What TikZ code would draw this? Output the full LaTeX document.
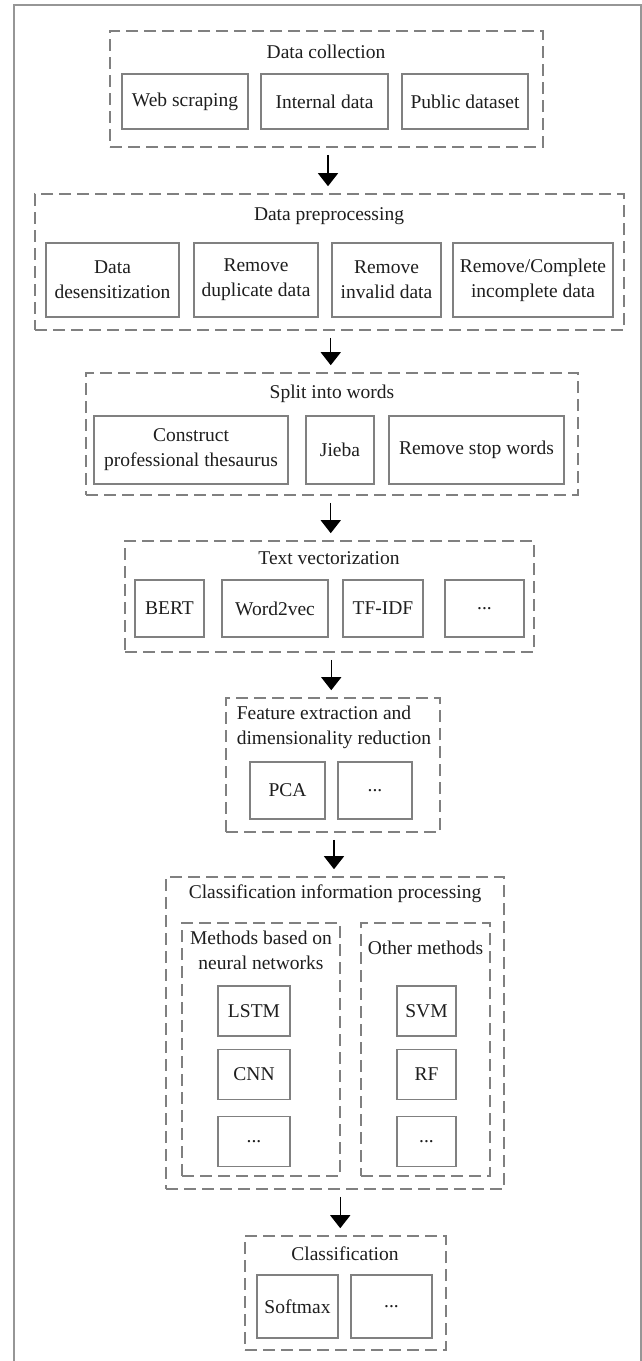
\documentclass[tikz,border=0pt]{standalone}
\usepackage{fontspec}
\setmainfont{Liberation Serif}
\newfontfamily\figfont{Liberation Serif}
\usetikzlibrary{arrows.meta,calc}
\definecolor{boxgray}{RGB}{128,128,128}
\definecolor{framegray}{RGB}{150,150,150}
\definecolor{inkgray}{RGB}{30,30,30}

\begin{document}
\begin{tikzpicture}[x=1pt,y=-1pt,
  every node/.style={text=inkgray, font=\figfont\fontsize{19.5}{25}\selectfont},
  grp/.style 2 args={draw=boxgray, line width=1.6pt, dash pattern=on 12pt off 6pt,
    minimum width=#1pt, minimum height=#2pt, inner sep=0pt},
  item/.style 2 args={draw=boxgray, line width=1.6pt, align=center,
    minimum width=#1pt, minimum height=#2pt, inner sep=0pt},
  ttl/.style={inner sep=0pt, align=center},
  arr/.style={-{Triangle[width=20pt,length=13pt]}, line width=1.3pt, black,
    shorten <=7pt, shorten >=7pt}]

\useasboundingbox (0,0) rectangle (642,1361);
\fill[white] (0,0) rectangle (642,1361);
\draw[framegray, line width=1.5pt] (14,5) rectangle (641,1400);

% data collection
\node[grp={433}{116}] (dc) at (326.5,89) {};
\node[ttl] (dcT) at (326,52) {Data collection};
\node[item={126}{55}] (web) at (185,101.5) {Web scraping};
\node[item={127}{55}] (internal) at (324.5,101.5) {Internal data};
\node[item={126}{55}] (public) at (465,101.5) {Public dataset};

% data preprocessing
\node[grp={589}{136}] (dp) at (329.5,262) {};
\node[ttl] (dpT) at (329,216) {Data preprocessing};
\node[item={133}{74}] (desens) at (112.5,280) {Data\\desensitization};
\node[item={124}{74}] (dup) at (256,280) {Remove\\duplicate data};
\node[item={109}{74}] (invalid) at (386.5,280) {Remove\\invalid data};
\node[item={160}{74}] (incompl) at (533,280) {Remove/Complete\\incomplete data};

% split into words
\node[grp={492}{122}] (sp) at (332,434) {};
\node[ttl] (spT) at (332,394) {Split into words};
\node[item={194}{68}] (thes) at (191,450) {Construct\\professional thesaurus};
\node[item={68}{68}] (jieba) at (340,450) {Jieba};
\node[item={175}{68}] (stop) at (476.5,450) {Remove stop words};

% text vectorization
\node[grp={409}{111}] (tv) at (329.5,596.5) {};
\node[ttl] (tvT) at (329,558) {Text vectorization};
\node[item={69}{57}] (bert) at (169.5,608.5) {BERT};
\node[item={106}{57}] (w2v) at (275,608.5) {Word2vec};
\node[item={80}{57}] (tfidf) at (383,608.5) {TF-IDF};
\node[item={79}{57}] (tvdots) at (484.5,608.5) {...};

% feature extraction
\node[grp={214}{134}] (fe) at (333,765) {};
\node[ttl, align=left] (feT) at (334,727) {Feature extraction and\\dimensionality reduction};
\node[item={75}{57}] (pca) at (287.5,790.5) {PCA};
\node[item={74}{57}] (fedots) at (375,790.5) {...};

% classification information processing
\node[grp={338}{312}] (cip) at (335,1033) {};
\node[ttl] (cipT) at (335,894) {Classification information processing};
\node[grp={158}{253}] (nn) at (261,1049.5) {};
\node[ttl] (nnT) at (261,950) {Methods based on\\neural networks};
\node[grp={129}{253}] (om) at (425.5,1049.5) {};
\node[ttl] (omT) at (425.5,948) {Other methods};
\node[item={72}{50}] (lstm) at (254,1011) {LSTM};
\node[item={72}{50}] (cnn) at (254,1074.5) {CNN};
\node[item={72}{50}] (nndots) at (254,1141.5) {...};
\node[item={59}{50}] (svm) at (426.5,1011) {SVM};
\node[item={59}{50}] (rf) at (426.5,1074.5) {RF};
\node[item={59}{50}] (omdots) at (426.5,1141.5) {...};

% classification
\node[grp={201}{114}] (cls) at (345.5,1293) {};
\node[ttl] (clsT) at (345,1254) {Classification};
\node[item={81}{63}] (softmax) at (297.5,1306.5) {Softmax};
\node[item={81}{63}] (clsdots) at (391.5,1306.5) {...};

% arrows between the stages
\coordinate (m1) at ($(dc.south)!.5!(dp.north)$);
\coordinate (m2) at ($(dp.south)!.5!(sp.north)$);
\coordinate (m3) at ($(sp.south)!.5!(tv.north)$);
\coordinate (m4) at ($(tv.south)!.5!(fe.north)$);
\coordinate (m5) at ($(fe.south)!.5!(cip.north)$);
\coordinate (m6) at ($(cip.south)!.5!(cls.north)$);
\draw[arr] (m1 |- dc.south) -- (m1 |- dp.north);
\draw[arr] (m2 |- dp.south) -- (m2 |- sp.north);
\draw[arr] (m3 |- sp.south) -- (m3 |- tv.north);
\draw[arr] (m4 |- tv.south) -- (m4 |- fe.north);
\draw[arr] (m5 |- fe.south) -- (m5 |- cip.north);
\draw[arr] (m6 |- cip.south) -- (m6 |- cls.north);
\end{tikzpicture}
\end{document}
